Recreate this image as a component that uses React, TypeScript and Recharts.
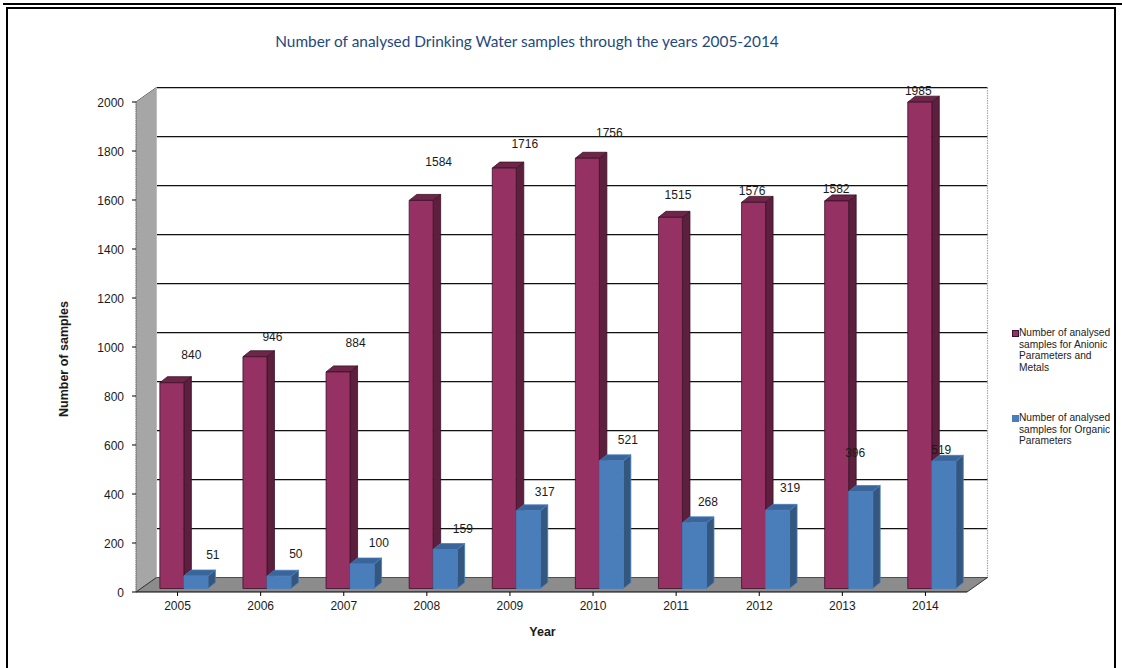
import React from 'react';
import { BarChart, Bar, XAxis, YAxis, CartesianGrid, ReferenceArea, LabelList, Legend } from 'recharts';

const years = ['2005', '2006', '2007', '2008', '2009', '2010', '2011', '2012', '2013', '2014'];
const anionicSamples = [840, 946, 884, 1584, 1716, 1756, 1515, 1576, 1582, 1985];
const organicSamples = [51, 50, 100, 159, 317, 521, 268, 319, 396, 519];
const valueTicks = [0, 200, 400, 600, 800, 1000, 1200, 1400, 1600, 1800, 2000];

const anionicName = 'Number of analysed samples for Anionic Parameters and Metals';
const organicName = 'Number of analysed samples for Organic Parameters';

// Hand-placed data label nudges, in pixels from the top centre of each front face.
const anionicLabelNudge = [
  [12, -31], [10, -23], [10, -32], [10, -42], [13, -28], [14.5, -29], [0, -26], [-9, -15], [-8, -15], [-9, -15],
];
const organicLabelNudge = [
  [9.5, -24.5], [9.4, -26], [9.3, -24.5], [10.2, -24], [9, -22], [9, -24.5], [6, -24], [5, -26], [-13, -42], [-10, -15],
];

const chartData = years.map((year, i) => ({
  year,
  anionic: anionicSamples[i],
  organic: organicSamples[i],
}));

// Depth of the chart box and of each bar, as drawn in the oblique projection.
const WALL_DX = 20.5;
const WALL_DY = -14.5;
const BAR_DX = 7.5;
const BAR_DY = -6;
const BAR_SHIFT_X = 6;
const BAR_SHIFT_Y = -3.5;

const axisFont = 'Liberation Sans, Arial, sans-serif';

type Palette = { front: string; top: string; side: string; edge: string };
const anionicColors: Palette = { front: '#953163', top: '#6E2549', side: '#5C1F3E', edge: '#3A1227' };
const organicColors: Palette = { front: '#4A7EBB', top: '#3A659A', side: '#34577F', edge: '#4A7EBB' };

const pts = (list: number[][]) => list.map((p) => p.join(',')).join(' ');

const boxBar = (colors: Palette) => (props: any) => {
  const { x, y, width, height } = props;
  const l = x + BAR_SHIFT_X;
  const r = l + width;
  const t = y + BAR_SHIFT_Y;
  const b = t + height;
  return (
    <g stroke={colors.edge} strokeWidth={0.8} strokeLinejoin="round">
      <polygon points={pts([[r, t], [r + BAR_DX, t + BAR_DY], [r + BAR_DX, b + BAR_DY], [r, b]])} fill={colors.side} />
      <polygon points={pts([[l, t], [l + BAR_DX, t + BAR_DY], [r + BAR_DX, t + BAR_DY], [r, t]])} fill={colors.top} />
      <rect x={l} y={t} width={width} height={height} fill={colors.front} />
    </g>
  );
};

const nudgedLabel = (nudge: number[][]) => (props: any) => {
  const { x, y, width, value, index } = props;
  const [dx, dy] = nudge[index];
  return (
    <text
      x={x + width / 2 + BAR_SHIFT_X + 7.5 + dx}
      y={y + dy + 4}
      textAnchor="middle"
      fontFamily={axisFont}
      fontSize={12}
      fill="#1a1a1a"
    >
      {value}
    </text>
  );
};

// Side wall and floor of the box, hung off the plot area rectangle.
const WallAndFloor = (props: any) => {
  const { x, y, width, height } = props;
  const bottom = y + height;
  return (
    <g>
      <polygon
        points={pts([[x, y], [x + WALL_DX, y + WALL_DY], [x + WALL_DX, bottom + WALL_DY], [x, bottom]])}
        fill="#A6A6A6"
      />
      <line x1={x + WALL_DX + width} y1={y + WALL_DY} x2={x + WALL_DX + width} y2={bottom + WALL_DY} stroke="#A8A8A8" strokeWidth={1.2} strokeDasharray="1.5 1" />
      <line x1={x + WALL_DX} y1={y + WALL_DY} x2={x + WALL_DX} y2={bottom + WALL_DY} stroke="#BDBDBD" strokeWidth={1} />
    </g>
  );
};

const Floor = (props: any) => {
  const { x, y, width, height } = props;
  const bottom = y + height;
  return (
    <g>
      <polygon
        points={pts([[x, bottom], [x + WALL_DX, bottom + WALL_DY], [x + WALL_DX + width, bottom + WALL_DY], [x + width, bottom]])}
        fill="#8C8C8C"
      />
      <line x1={x} y1={bottom} x2={x + WALL_DX} y2={bottom + WALL_DY} stroke="#333" strokeWidth={1} />
      <line x1={x + width} y1={bottom} x2={x + width + WALL_DX} y2={bottom + WALL_DY} stroke="#333" strokeWidth={1} />
    </g>
  );
};

// Each grid line runs along the back wall and drops diagonally down the side wall.
const WallGridLine = (props: any) => {
  const { x1, x2, y1 } = props;
  return (
    <g fill="none">
      <line x1={x1 + WALL_DX} y1={y1 + WALL_DY + 1} x2={x2 + WALL_DX} y2={y1 + WALL_DY + 1} stroke="#BFBFBF" strokeWidth={1} />
      <line x1={x1 + WALL_DX} y1={y1 + WALL_DY} x2={x2 + WALL_DX} y2={y1 + WALL_DY} stroke="#111" strokeWidth={1.1} />
      <line x1={x1} y1={y1} x2={x1 + WALL_DX} y2={y1 + WALL_DY} stroke="#333" strokeWidth={1} />
    </g>
  );
};

const LegendBlock = () => {
  const rows = [
    { name: anionicName, colors: anionicColors },
    { name: organicName, colors: organicColors },
  ];
  return (
    <div style={{ fontFamily: axisFont, fontSize: 10.2, lineHeight: '11.7px', color: '#222', width: 100 }}>
      {rows.map((row, i) => (
        <div key={row.name} style={{ position: 'relative', paddingLeft: 7, marginBottom: i === 0 ? 38 : 0 }}>
          <span
            style={{
              position: 'absolute',
              left: 0,
              top: 3,
              width: 5,
              height: 5,
              background: row.colors.front,
              border: i === 0 ? `1px solid ${row.colors.edge}` : `1px solid ${row.colors.front}`,
            }}
          />
          {row.name}
        </div>
      ))}
    </div>
  );
};

export default function App() {
  return (
    <div style={{ position: 'absolute', left: 0, top: 0, width: 1122, height: 668, background: '#fff', overflow: 'hidden' }}>
      <div style={{ position: 'absolute', left: 3, top: 3, right: 0, height: 2, background: '#000' }} />
      <div style={{ position: 'absolute', left: 6, top: 7, width: 1106, height: 680, border: '2px solid #000' }} />
      <div
        style={{
          position: 'absolute',
          left: 0,
          width: 1054,
          top: 32,
          textAlign: 'center',
          fontFamily: 'Lato, sans-serif',
          fontSize: 15.4,
          color: '#1F497D',
          whiteSpace: 'nowrap',
        }}
      >
        Number of analysed Drinking Water samples through the years 2005-2014
      </div>
      <div style={{ position: 'absolute', left: 0, top: 0 }}>
        <BarChart
          width={1122}
          height={668}
          data={chartData}
          margin={{ top: 102, right: 50, bottom: 0, left: 0 }}
          barCategoryGap="21.5%"
          barGap={0}
        >
          <ReferenceArea y1={0} y2={2000} shape={WallAndFloor} ifOverflow="visible" />
          <CartesianGrid vertical={false} horizontal={WallGridLine} />
          <ReferenceArea y1={0} y2={2000} shape={Floor} ifOverflow="visible" />
          <XAxis
            dataKey="year"
            height={76}
            tickLine={{ stroke: '#000' }}
            axisLine={{ stroke: '#000', strokeWidth: 1.2 }}
            tickSize={4}
            tick={{ fontFamily: axisFont, fontSize: 12, fill: '#1a1a1a' }}
            tickMargin={5}
            interval={0}
            label={{
              value: 'Year',
              position: 'insideBottom',
              offset: 32,
              dx: -9,
              style: { fontFamily: axisFont, fontSize: 12.5, fontWeight: 700, fill: '#1a1a1a' },
            }}
          />
          <YAxis
            width={136}
            domain={[0, 2000]}
            ticks={valueTicks}
            interval={0}
            tickLine={{ stroke: '#000' }}
            axisLine={{ stroke: '#555', strokeDasharray: '1.5 0.7' }}
            tickSize={4}
            tickMargin={8}
            tick={{ fontFamily: axisFont, fontSize: 12, fill: '#1a1a1a', dy: 1 }}
            label={{
              value: 'Number of samples',
              angle: -90,
              position: 'insideLeft',
              offset: 64,
              dy: 70,
              style: { fontFamily: axisFont, fontSize: 12.5, fontWeight: 700, fill: '#1a1a1a' },
            }}
          />
          <Legend
            layout="vertical"
            align="right"
            verticalAlign="top"
            content={<LegendBlock />}
            wrapperStyle={{ left: 1012, top: 327, width: 105 }}
          />
          <Bar dataKey="anionic" name={anionicName} isAnimationActive={false} shape={boxBar(anionicColors)} fill={anionicColors.front}>
            <LabelList dataKey="anionic" content={nudgedLabel(anionicLabelNudge)} />
          </Bar>
          <Bar dataKey="organic" name={organicName} isAnimationActive={false} shape={boxBar(organicColors)} fill={organicColors.front}>
            <LabelList dataKey="organic" content={nudgedLabel(organicLabelNudge)} />
          </Bar>
        </BarChart>
      </div>
    </div>
  );
}
